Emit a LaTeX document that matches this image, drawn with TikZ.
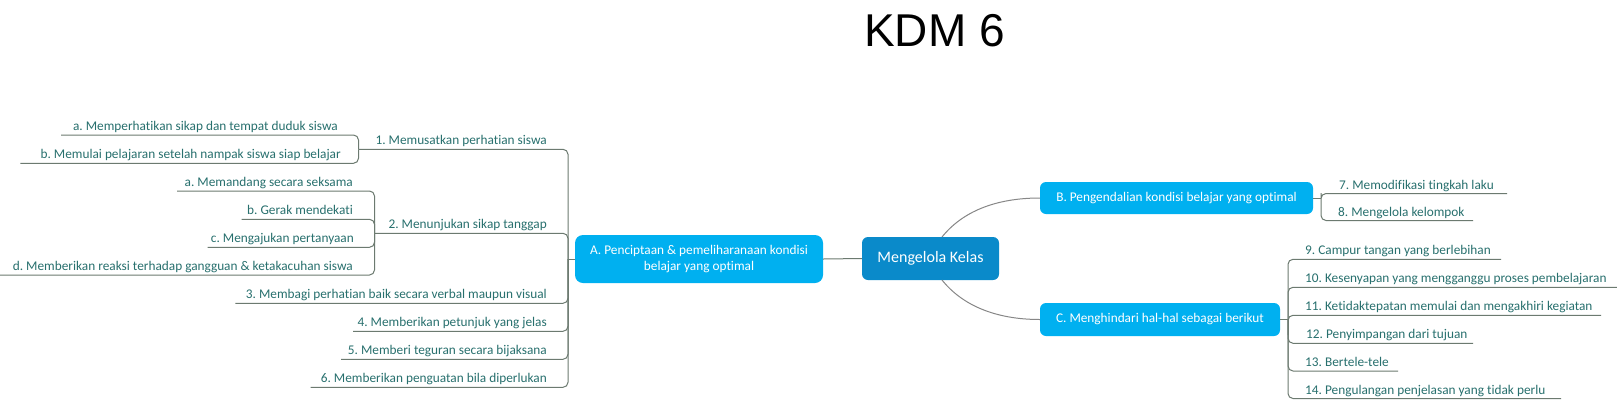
\documentclass[tikz,border=0pt]{standalone}
\usepackage{fontspec}
\setmainfont{Carlito}[Ligatures=NoCommon]
\newfontfamily\titlefont{Liberation Sans}
\definecolor{lblue}{RGB}{0,176,240}
\definecolor{dblue}{RGB}{10,138,202}
\definecolor{linec}{RGB}{108,122,112}
\definecolor{curvec}{RGB}{135,135,135}
\definecolor{itemc}{RGB}{40,112,110}
\frenchspacing
\tikzset{
  itemtxt/.style={font=\fontsize{13.3}{16}\selectfont, text=itemc, inner sep=0pt},
  ltxt/.style={itemtxt, anchor=base east},
  rtxt/.style={itemtxt, anchor=base west},
  ln/.style={draw=linec, line width=1pt, rounded corners=5pt},
  cv/.style={draw=curvec, line width=1pt},
  topic/.style={rounded corners=7pt, fill=lblue, text=white, inner sep=0pt, align=center,
    font=\fontsize{13.3}{15.5}\selectfont},
}
\begin{document}
\begin{tikzpicture}[x=1pt,y=-1pt]
\useasboundingbox (0,0) rectangle (1617,400);
\fill[white] (0,0) rectangle (1617,400);

% title
\node[font=\titlefont\fontsize{46}{50}\selectfont, anchor=base, inner sep=0pt] (title) at (934.5,46.7) {KDM 6};

% main nodes
\node[topic, fill=dblue, rounded corners=6pt, minimum width=137pt, minimum height=43pt,
  font=\fontsize{16}{18}\selectfont] (M) at (930.5,258.5) {Mengelola Kelas};
\node[topic, rounded corners=8pt, minimum width=248pt, minimum height=48pt] (A) at (699,259)
  {A. Penciptaan \& pemeliharanaan kondisi\\belajar yang optimal};
\node[topic, rounded corners=6pt, minimum width=273pt, minimum height=32pt] (B) at (1176.5,198)
  {B. Pengendalian kondisi belajar yang optimal};
\node[topic, rounded corners=6pt, minimum width=240pt, minimum height=33pt] (C) at (1160,319.5)
  {C. Menghindari hal-hal sebagai berikut};

% central connectors
\draw[ln] (M.west) -- (A.east);
\coordinate (Mt) at (942,237);
\coordinate (Mb) at (942,280);
\draw[cv] (Mt) .. controls (962,212) and (995,198) .. (B.west);
\draw[cv] (Mb) .. controls (962,305) and (995,319.5) .. (C.west);

% ---------- left side (A) ----------
\coordinate (jA) at (568,259);
\draw[ln] (A.west) -- (jA);
\coordinate (j1) at (358.5,149.3);
\coordinate (j2) at (374.5,233.3);
\coordinate (e3) at (235.4,303.3);
\coordinate (e4) at (353,331.3);
\coordinate (e5) at (341,359.3);
\coordinate (e6) at (310.6,387.3);
\draw[ln] (jA) |- (j1);
\draw[ln] (jA) |- (j2);
\draw[ln] (jA) |- (e3);
\draw[ln] (jA) |- (e4);
\draw[ln] (jA) |- (e5);
\draw[ln] (jA) |- (e6);

\node[ltxt] (t1) at (547,144.8) {1. Memusatkan perhatian siswa};
\node[ltxt] (t2) at (547,228.8) {2. Menunjukan sikap tanggap};
\node[ltxt] (t3) at (547,298.8) {3. Membagi perhatian baik secara verbal maupun visual};
\node[ltxt] (t4) at (547,326.8) {4. Memberikan petunjuk yang jelas};
\node[ltxt] (t5) at (547,354.8) {5. Memberi teguran secara bijaksana};
\node[ltxt] (t6) at (547,382.8) {6. Memberikan penguatan bila diperlukan};

% sub items of 1
\coordinate (e1a) at (61,135);
\coordinate (e1b) at (20.4,163.3);
\draw[ln] (j1) |- (e1a);
\draw[ln] (j1) |- (e1b);
\node[ltxt] (t1a) at (338,130.5) {a. Memperhatikan sikap dan tempat duduk siswa};
\node[ltxt] (t1b) at (341,158.8) {b. Memulai pelajaran setelah nampak siswa siap belajar};

% sub items of 2
\coordinate (e2a) at (177,191);
\coordinate (e2b) at (241.5,219.3);
\coordinate (e2c) at (207.5,247.3);
\coordinate (e2d) at (0,275);
\draw[ln] (j2) |- (e2a);
\draw[ln] (j2) |- (e2b);
\draw[ln] (j2) |- (e2c);
\draw[ln] (j2) |- (e2d);
\node[ltxt] (t2a) at (353,186.5) {a. Memandang secara seksama};
\node[ltxt] (t2b) at (353,214.8) {b. Gerak mendekati};
\node[ltxt] (t2c) at (354,242.8) {c. Mengajukan pertanyaan};
\node[ltxt] (t2d) at (353,270.5) {d. Memberikan reaksi terhadap gangguan \& ketakacuhan siswa};

% ---------- right side (B) ----------
\coordinate (jB) at (1321,198);
\coordinate (e7) at (1507,193.5);
\coordinate (e8) at (1473,220.5);
\draw[ln] (B.east) -- (jB);
\draw[ln] (e7) -| (jB) |- (e8);
\node[rtxt] (t7) at (1339,189) {7. Memodifikasi tingkah laku};
\node[rtxt] (t8) at (1338,216) {8. Mengelola kelompok};

% ---------- right side (C) ----------
\coordinate (jC) at (1288,319.5);
\coordinate (jCl) at (1288,335);
\coordinate (e9) at (1501,259.3);
\coordinate (e10) at (1617,287.3);
\coordinate (e11) at (1601,315.3);
\coordinate (e12) at (1473,343.3);
\coordinate (e13) at (1398,371);
\coordinate (e14) at (1561,398.5);
\draw[ln] (C.east) -- (jC);
\draw[ln] (e9) -| (jC) |- (e14);
\draw[ln] (jC) |- (e10);
\draw[ln] (jCl) |- (e11);
\draw[ln] (jC) |- (e12);
\draw[ln] (jC) |- (e13);
\node[rtxt] (t9) at (1305,254.8) {9. Campur tangan yang berlebihan};
\node[rtxt] (t10) at (1305,282.8) {10. Kesenyapan yang mengganggu proses pembelajaran};
\node[rtxt] (t11) at (1305,310.8) {11. Ketidaktepatan memulai dan mengakhiri kegiatan};
\node[rtxt] (t12) at (1306,338.8) {12. Penyimpangan dari tujuan};
\node[rtxt] (t13) at (1305,366.5) {13. Bertele-tele};
\node[rtxt] (t14) at (1305,394) {14. Pengulangan penjelasan yang tidak perlu};
\end{tikzpicture}
\end{document}
